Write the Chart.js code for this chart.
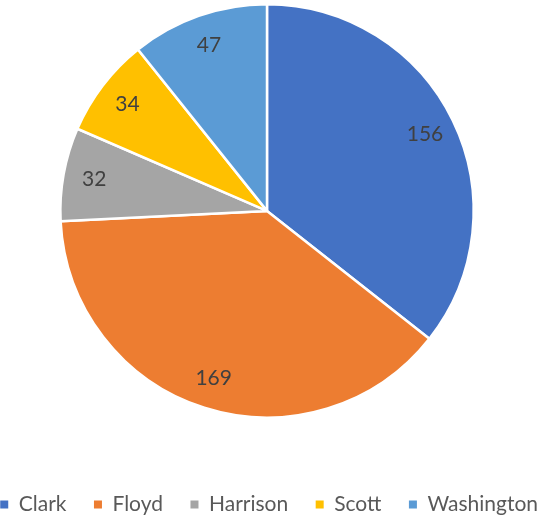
<!DOCTYPE html>
<html>
<head>
<meta charset="utf-8">
<script src="https://cdn.jsdelivr.net/npm/chart.js@4"></script>
<style>
  html, body { margin: 0; padding: 0; background: #ffffff; overflow: hidden; }
  /* canvas is a bit wider/taller than the window so the pie and legend land where Excel put them */
  #wrap { position: relative; left: -10px; width: 554px; height: 525px; }
</style>
</head>
<body>
<div id="wrap"><canvas id="pieChart"></canvas></div>
<script>
const categories = ['Clark', 'Floyd', 'Harrison', 'Scott', 'Washington'];
const counts = [156, 169, 32, 34, 47];
const sliceColors = ['#4472C4', '#ED7D31', '#A5A5A5', '#FFC000', '#5B9BD5'];

const FONT = 'Lato, "Open Sans", sans-serif';

// draws the value inside each slice, like Excel's data labels
const sliceLabels = {
    id: 'sliceLabels',
    afterDatasetsDraw(chart) {
        const ctx = chart.ctx;
        const meta = chart.getDatasetMeta(0);
        ctx.save();
        ctx.font = '21px ' + FONT;
        ctx.fillStyle = '#404040';
        ctx.textAlign = 'center';
        ctx.textBaseline = 'middle';
        meta.data.forEach((arc, i) => {
            const p = arc.getProps(['x', 'y', 'startAngle', 'endAngle', 'outerRadius'], true);
            const mid = (p.startAngle + p.endAngle) / 2;
            const r = p.outerRadius * 0.85;
            ctx.fillText(String(counts[i]), p.x + Math.cos(mid) * r, p.y + Math.sin(mid) * r);
        });
        ctx.restore();
    }
};

// Chart.js can't widen the gap between legend items without wrapping the row,
// so pad the label text with spaces instead
function legendSpacer(px) {
    const c = document.createElement('canvas').getContext('2d');
    c.font = '21px ' + FONT;
    const w = c.measureText(' ').width || 5;
    return ' '.repeat(Math.max(0, Math.round(px / w)));
}

document.addEventListener('DOMContentLoaded', function() {
    const ctx = document.getElementById('pieChart');
    const spacer = legendSpacer(20);
    new Chart(ctx.getContext('2d'), {
        type: 'pie',
        data: {
            labels: categories,
            datasets: [{
                data: counts,
                backgroundColor: sliceColors,
                borderColor: '#ffffff',
                borderWidth: 2.5,
                hoverOffset: 0
            }]
        },
        options: {
            responsive: true,
            maintainAspectRatio: false,
            animation: false,
            layout: { padding: { top: 3, bottom: 0, left: 0, right: 0 } },
            plugins: {
                tooltip: { enabled: false },
                legend: {
                    position: 'bottom',
                    align: 'end',
                    title: {
                        display: true,
                        text: '',
                        font: { size: 1 },
                        padding: { top: 68, bottom: 0 }
                    },
                    labels: {
                        color: '#595959',
                        font: { family: FONT, size: 21 },
                        boxWidth: 8,
                        boxHeight: 8,
                        padding: 6,
                        generateLabels(chart) {
                            const items = Chart.overrides.pie.plugins.legend.labels.generateLabels(chart);
                            items.forEach((item, i) => {
                                item.lineWidth = 0; // no white slice border around the swatch
                                if (i < items.length - 1) item.text = item.text + spacer;
                            });
                            return items;
                        }
                    }
                }
            }
        },
        plugins: [sliceLabels]
    });
});
</script>
</body>
</html>
